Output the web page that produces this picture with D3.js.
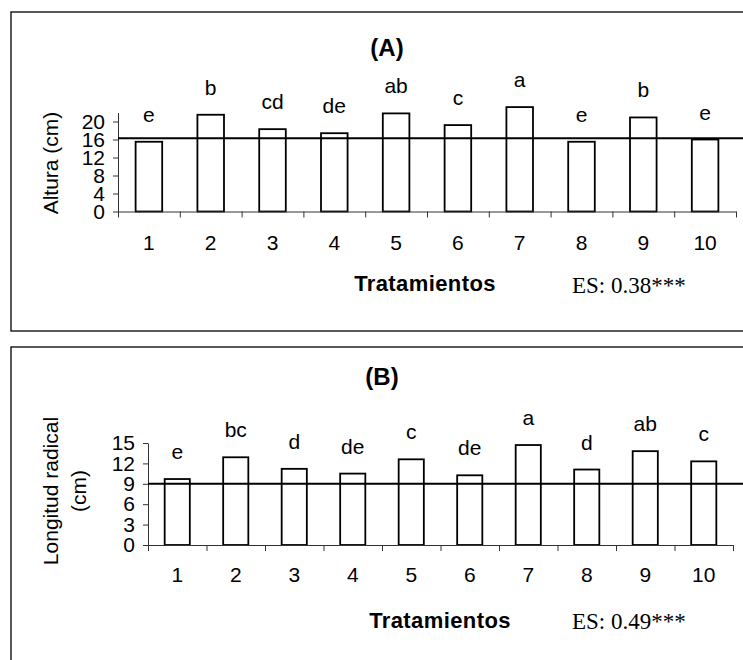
<!DOCTYPE html>
<html>
<head>
<meta charset="utf-8">
<script src="https://cdn.jsdelivr.net/npm/d3@7"></script>
<style>
  html, body { margin: 0; padding: 0; background: #fff; }
  svg { display: block; }
  text { font-family: "Liberation Sans", Arial, sans-serif; fill: #000; }
</style>
</head>
<body>
<svg id="chart" width="743" height="660"></svg>
<script>
// ---------------- DATA ----------------
const categories = ["1","2","3","4","5","6","7","8","9","10"];

const alturaValues = [15.5, 21.5, 18.3, 17.4, 21.8, 19.2, 23.2, 15.5, 20.9, 16.0];
const alturaLetters = ["e","b","cd","de","ab","c","a","e","b","e"];
const alturaTicks = [0, 4, 8, 12, 16, 20];
const alturaRef = 16.3;

const raizValues = [9.7, 12.9, 11.2, 10.5, 12.6, 10.25, 14.7, 11.1, 13.8, 12.3];
const raizLetters = ["e","bc","d","de","c","de","a","d","ab","c"];
const raizTicks = [0, 3, 6, 9, 12, 15];
const raizRef = 9.0;

const panels = [
  { title: "(A)", ylabel: ["Altura (cm)"], values: alturaValues, letters: alturaLetters,
    ticks: alturaTicks, ref: alturaRef, ymax: 22, es: "ES: 0.38***",
    box: {x: 11, y: 12, h: 319},
    plot: {x0: 118, x1: 736, y0: 211.5, perUnit: 4.5},
    titleXY: [387, 56], ylabXY: [51, 163], xlabY: 250, tratXY: [425, 291], esXY: [572, 293] },
  { title: "(B)", ylabel: ["Longitud radical", "(cm)"], values: raizValues, letters: raizLetters,
    ticks: raizTicks, ref: raizRef, ymax: 15, es: "ES: 0.49***",
    box: {x: 11, y: 347, h: 400},
    plot: {x0: 148, x1: 733, y0: 545, perUnit: 6.8},
    titleXY: [382, 385], ylabXY: [65, 491], xlabY: 582, tratXY: [440, 628], esXY: [572, 629] }
];

const svg = d3.select("#chart");

panels.forEach(p => {
  const g = svg.append("g");

  // frame
  g.append("rect")
    .attr("x", p.box.x).attr("y", p.box.y)
    .attr("width", 760).attr("height", p.box.h)
    .attr("fill", "none").attr("stroke", "#000").attr("stroke-width", 1.3);

  const y = d3.scaleLinear()
    .domain([0, p.ymax])
    .range([p.plot.y0, p.plot.y0 - p.ymax * p.plot.perUnit]);

  const x = d3.scaleBand()
    .domain(categories)
    .range([p.plot.x0, p.plot.x1])
    .paddingInner(0.57)
    .paddingOuter(0.285);

  const xb = d3.scaleLinear().domain([0, categories.length]).range([p.plot.x0, p.plot.x1]);

  // bars
  g.selectAll("rect.bar").data(p.values).join("rect")
    .attr("class", "bar")
    .attr("x", (d, i) => x(categories[i]))
    .attr("width", x.bandwidth())
    .attr("y", d => y(d))
    .attr("height", d => y(0) - y(d))
    .attr("fill", "#fff").attr("stroke", "#000").attr("stroke-width", 1.8);

  // y axis
  const ya = g.append("g")
    .attr("transform", `translate(${p.plot.x0},0)`)
    .call(d3.axisLeft(y).tickValues(p.ticks).tickSize(5).tickPadding(8).tickSizeOuter(0));
  ya.select(".domain").attr("stroke", "#333");
  ya.selectAll(".tick line").attr("stroke", "#333");
  ya.selectAll(".tick text").style("font-size", "21px").style("font-family", "Liberation Sans, Arial, sans-serif");

  // x axis: tick marks at category boundaries
  const xa = g.append("g")
    .attr("transform", `translate(0,${p.plot.y0})`)
    .call(d3.axisBottom(xb).tickValues(d3.range(categories.length + 1)).tickFormat("").tickSize(6).tickSizeOuter(0));
  xa.select(".domain").attr("stroke", "#333");
  xa.selectAll(".tick line").attr("stroke", "#333");

  // x labels
  g.selectAll("text.xl").data(categories).join("text")
    .attr("class", "xl")
    .attr("x", d => x(d) + x.bandwidth() / 2)
    .attr("y", p.xlabY)
    .attr("text-anchor", "middle")
    .style("font-size", "21px")
    .text(d => d);

  // reference line
  g.append("line")
    .attr("x1", p.plot.x0).attr("x2", 743)
    .attr("y1", y(p.ref)).attr("y2", y(p.ref))
    .attr("stroke", "#000").attr("stroke-width", 2);

  // letters above bars
  g.selectAll("text.lt").data(p.letters).join("text")
    .attr("class", "lt")
    .attr("x", (d, i) => x(categories[i]) + x.bandwidth() / 2)
    .attr("y", (d, i) => y(p.values[i]) - 20)
    .attr("text-anchor", "middle")
    .style("font-size", "21px")
    .text(d => d);

  // title
  g.append("text")
    .attr("x", p.titleXY[0]).attr("y", p.titleXY[1])
    .attr("text-anchor", "middle")
    .style("font-size", "24px").style("font-weight", "bold")
    .text(p.title);

  // y label
  const yl = g.append("text")
    .attr("transform", `translate(${p.ylabXY[0]},${p.ylabXY[1]}) rotate(-90)`)
    .attr("text-anchor", "middle")
    .style("font-size", "21px");
  const n = p.ylabel.length;
  p.ylabel.forEach((t, i) => {
    yl.append("tspan")
      .attr("x", 0)
      .attr("y", (i - (n - 1) / 2) * 28.5 + 7)
      .text(t);
  });

  // x title
  g.append("text")
    .attr("x", p.tratXY[0]).attr("y", p.tratXY[1])
    .attr("text-anchor", "middle")
    .style("font-size", "22px").style("font-weight", "bold")
    .style("letter-spacing", "0.4px")
    .text("Tratamientos");

  // ES text
  g.append("text")
    .attr("x", p.esXY[0]).attr("y", p.esXY[1])
    .style("font-family", "Liberation Serif, Times New Roman, serif")
    .style("font-size", "23px")
    .text(p.es);
});
</script>
</body>
</html>
